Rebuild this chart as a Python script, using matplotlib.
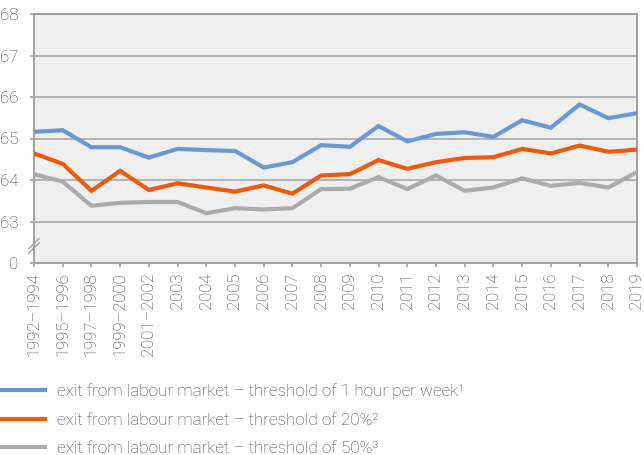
import matplotlib
matplotlib.use("Agg")
import matplotlib.pyplot as plt
import numpy as np

plt.rcParams['font.family'] = ['Roboto', 'DejaVu Sans']
plt.rcParams['font.weight'] = 'light'

categories = ["1992–1994", "1995–1996", "1997–1998", "1999–2000", "2001–2002",
              "2003", "2004", "2005", "2006", "2007", "2008", "2009", "2010",
              "2011", "2012", "2013", "2014", "2015", "2016", "2017", "2018", "2019"]

hour_1 = [65.16, 65.20, 64.79, 64.79, 64.54, 64.75, 64.72, 64.70, 64.30, 64.43, 64.84,
          64.80, 65.30, 64.93, 65.11, 65.15, 65.04, 65.44, 65.26, 65.82, 65.49, 65.61]
pct_20 = [64.64, 64.39, 63.74, 64.22, 63.76, 63.92, 63.82, 63.72, 63.87, 63.67, 64.11,
          64.14, 64.48, 64.27, 64.43, 64.53, 64.55, 64.75, 64.64, 64.83, 64.68, 64.73]
pct_50 = [64.14, 63.96, 63.38, 63.45, 63.47, 63.47, 63.20, 63.32, 63.29, 63.32, 63.78,
          63.79, 64.07, 63.78, 64.11, 63.74, 63.82, 64.04, 63.86, 63.93, 63.82, 64.19]

labels = ["exit from labour market – threshold of 1 hour per week¹",
          "exit from labour market – threshold of 20%²",
          "exit from labour market – threshold of 50%³"]
colors = ["#6A98D2", "#EE5A0C", "#ABABAB"]

ytick_vals = [62, 63, 64, 65, 66, 67, 68]
ytick_labels = ["0", "63", "64", "65", "66", "67", "68"]

fig = plt.figure(figsize=(6.44, 4.55), dpi=100)
ax = fig.add_axes([34/644, 1-263/455, (637-34)/644, (263-14)/455])
ax.set_facecolor("#EFEFEF")

x = np.arange(len(categories))
lines = []
for vals, c, lab in zip([hour_1, pct_20, pct_50], colors, labels):
    l, = ax.plot(x, vals, color=c, lw=3, label=lab, solid_joinstyle='miter', zorder=3)
    lines.append(l)

ax.set_xlim(0, len(categories)-1)
ax.set_ylim(62, 68)
ax.set_yticks(ytick_vals)
ax.set_yticklabels(ytick_labels)
ax.set_xticks(x)
ax.set_xticklabels(categories, rotation=90)
ax.grid(axis='y', color="#A8A8A8", lw=1.2, zorder=1)
ax.set_axisbelow(True)
for s in ax.spines.values():
    s.set_color("#A0A0A0")
    s.set_linewidth(1.4)
ax.tick_params(axis='both', colors="#A0A0A0", labelcolor="#404040", labelsize=12,
               length=3, width=1.2)
ax.tick_params(axis='x', pad=4)
ax.tick_params(axis='y', pad=8.5, labelsize=12.2)

# axis break marker
for yc in (0.060, 0.078):
    ax.plot([-0.0085, 0.0085], [yc - 0.02, yc + 0.02], transform=ax.transAxes,
            color="#A0A0A0", lw=1, clip_on=False, zorder=5)

fig.legend(handles=lines, loc='upper left', bbox_to_anchor=(0.0, 0.157),
           frameon=False, fontsize=12.3, handlelength=2.63, handletextpad=0.7,
           labelspacing=0.78, borderpad=0, borderaxespad=0, labelcolor="#454545")

fig.savefig("out.png", dpi=100)
